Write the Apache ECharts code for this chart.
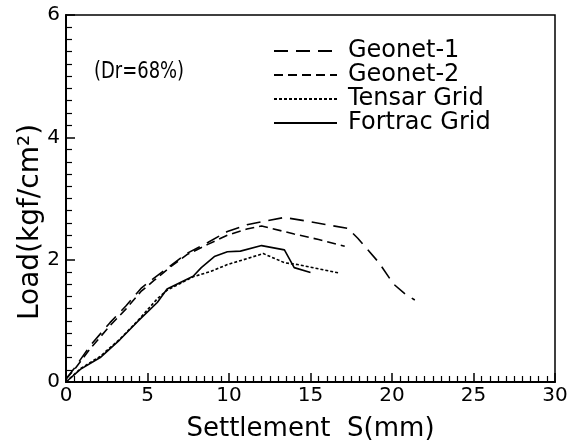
<!DOCTYPE html>
<html>
<head>
<meta charset="utf-8">
<script src="https://cdn.jsdelivr.net/npm/echarts@6/dist/echarts.min.js"></script>
<style>
  html, body { margin: 0; padding: 0; background: #fff; }
  #chart { width: 579px; height: 447px; }
</style>
</head>
<body>
<div id="chart"></div>
<script>
// 数据
var seriesNames = ['Geonet-1', 'Geonet-2', 'Tensar Grid', 'Fortrac Grid'];
var geonet1 = [[0,0.05],[0.5,0.22],[1.5,0.6],[2.7,0.97],[3.7,1.25],[4.6,1.53],[5.4,1.7],[6.4,1.9],[7.4,2.1],[8.7,2.28],[9.9,2.46],[11.1,2.57],[12,2.62],[13.4,2.69],[15,2.62],[17.3,2.51],[17.9,2.35],[19.2,1.95],[20.1,1.6],[20.8,1.44],[21.4,1.34]];
var geonet2 = [[0,0.05],[0.5,0.2],[1.5,0.55],[2.7,0.92],[3.7,1.2],[4.6,1.48],[5.4,1.66],[6.4,1.88],[7.4,2.08],[8.7,2.25],[9.9,2.4],[11.1,2.5],[12,2.55],[14,2.42],[15.5,2.33],[17.1,2.22]];
var tensar = [[0,0],[0.9,0.22],[2.1,0.42],[3.3,0.7],[4.4,1.0],[5.6,1.36],[6.2,1.5],[7.8,1.72],[8.9,1.81],[9.9,1.92],[10.9,2.0],[12.1,2.1],[13.4,1.95],[14.2,1.92],[15.5,1.85],[16.8,1.78]];
var fortrac = [[0,0],[0.9,0.21],[2.1,0.4],[3.3,0.69],[4.4,0.99],[5.6,1.3],[6.2,1.52],[7.8,1.73],[8.3,1.87],[9.1,2.05],[9.9,2.13],[10.7,2.14],[12,2.23],[13.4,2.16],[14,1.87],[15,1.79]];
var xTicks = { min: 0, max: 30, interval: 5 };
var yTicks = { min: 0, max: 6, interval: 2 };

var font = 'DejaVu Sans';

function lineSeries(name, data, type){
  return {
    name: name,
    type: 'line',
    data: data,
    symbol: 'none',
    smooth: false,
    lineStyle: { color: '#000', width: 1.6, type: type },
    itemStyle: { color: '#000' }
  };
}

var option = {
  animation: false,
  backgroundColor: '#fff',
  grid: {
    left: 66, right: 24, top: 15, bottom: 57,
    show: true, borderColor: '#000', borderWidth: 1.5
  },
  legend: {
    orient: 'vertical',
    left: 268, top: 34,
    itemWidth: 63, itemHeight: 12, itemGap: 0,
    itemStyle: { color: 'transparent', borderWidth: 0, opacity: 0 },
    textStyle: { fontFamily: font, fontSize: 24, lineHeight: 24, color: '#000', padding: [0, 0, 0, 6] },
    data: seriesNames
  },
  xAxis: {
    type: 'value',
    min: xTicks.min, max: xTicks.max, interval: xTicks.interval,
    name: 'Settlement  S(mm)',
    nameLocation: 'middle',
    nameGap: 34,
    nameTextStyle: { fontFamily: font, fontSize: 26, color: '#000' },
    axisLine: { lineStyle: { color: '#000', width: 2 } },
    axisTick: { inside: true, length: 9, lineStyle: { color: '#000', width: 1.5 } },
    minorTick: { show: true, splitNumber: 10, length: 6, lineStyle: { color: '#000', width: 1.2 } },
    axisLabel: { fontFamily: font, fontSize: 20, color: '#000', margin: 4 },
    splitLine: { show: false }
  },
  yAxis: {
    type: 'value',
    min: yTicks.min, max: yTicks.max, interval: yTicks.interval,
    axisLine: { lineStyle: { color: '#000', width: 2 } },
    axisTick: { inside: true, length: 9, lineStyle: { color: '#000', width: 1.5 } },
    minorTick: { show: true, splitNumber: 10, length: 6, lineStyle: { color: '#000', width: 1.2 } },
    axisLabel: { fontFamily: font, fontSize: 20, color: '#000', margin: 6 },
    splitLine: { show: false }
  },
  graphic: [{
    type: 'text',
    x: 31, y: 222,
    rotation: Math.PI / 2,
    style: {
      text: 'Load(kgf/cm²)',
      fontFamily: font,
      fontSize: 28,
      fill: '#000',
      align: 'center',
      verticalAlign: 'middle'
    }
  },{
    type: 'text',
    x: 94, y: 72,
    scaleX: 0.78, scaleY: 1,
    style: {
      text: '(Dr=68%)',
      fontFamily: font,
      fontSize: 23,
      fill: '#000',
      verticalAlign: 'middle'
    }
  }],
  series: [
    lineSeries(seriesNames[0], geonet1, [14, 8]),
    lineSeries(seriesNames[1], geonet2, [9, 5]),
    lineSeries(seriesNames[2], tensar, [3, 2]),
    lineSeries(seriesNames[3], fortrac, 'solid')
  ]
};

var chart = echarts.init(document.getElementById('chart'));
chart.setOption(option);
</script>
</body>
</html>
